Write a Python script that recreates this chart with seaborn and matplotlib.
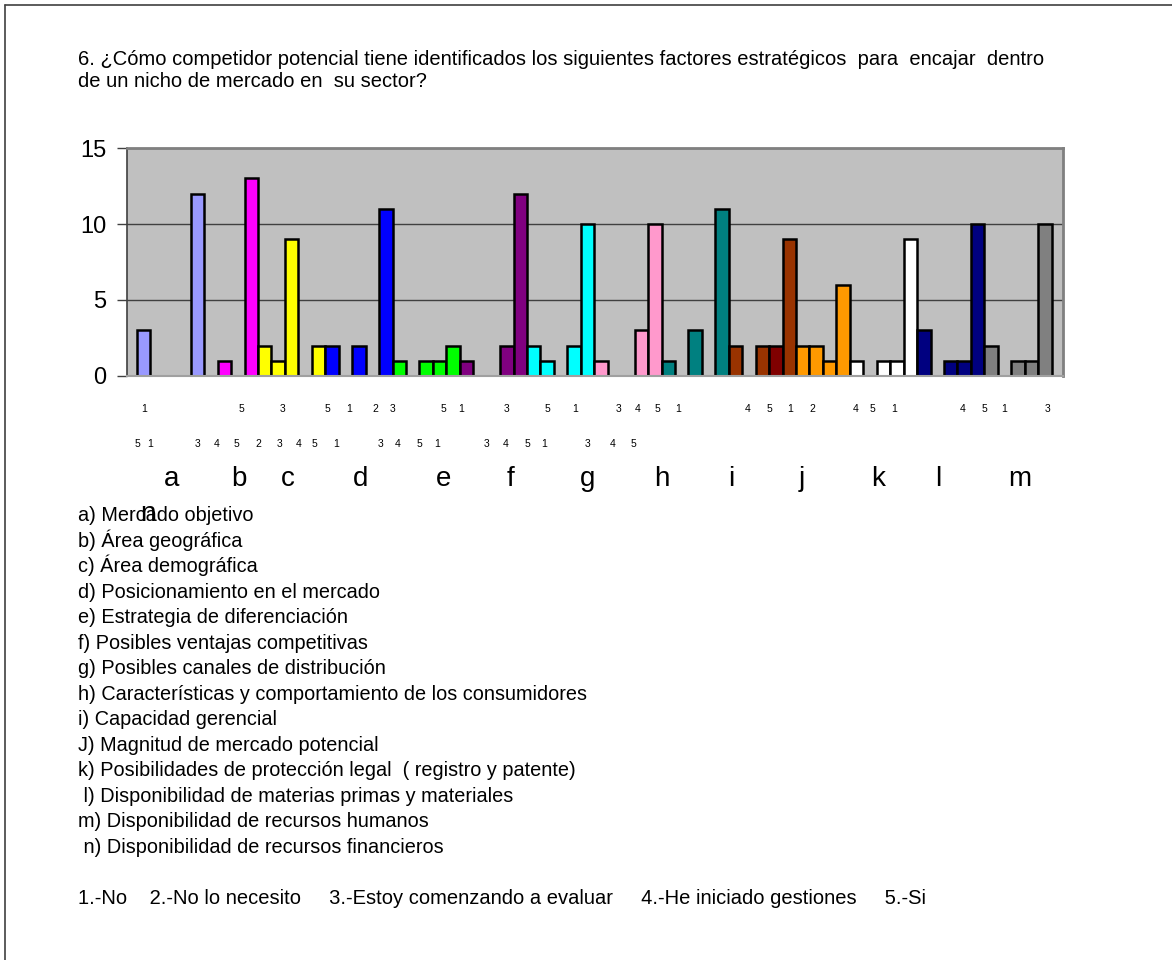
import matplotlib
matplotlib.use("Agg")
import matplotlib.pyplot as plt
from matplotlib.lines import Line2D
import seaborn as sns
import pandas as pd

# one entry per bar slot, left to right (None = empty slot)
values = [3, None, None, None, 12, None, 1, None, 13, 2,
          1, 9, None, 2, 2, None, 2, None, 11, 1,
          None, 1, 1, 2, 1, None, None, 2, 12, 2,
          1, None, 2, 10, 1, None, None, 3, 10, 1,
          None, 3, None, 11, 2, None, 2, 2, 9, 2,
          2, 1, 6, 1, None, 1, 1, 9, 3, None,
          1, 1, 10, 2, None, 1, 1, 10]
fills = ["lav", "", "", "", "lav", "", "mag", "", "mag", "yel",
         "yel", "yel", "", "yel", "blue", "", "blue", "", "blue", "green",
         "", "green", "green", "green", "purple", "", "", "purple", "purple", "cyan",
         "cyan", "", "cyan", "cyan", "pink", "", "", "pink", "pink", "teal",
         "", "teal", "", "teal", "brown", "", "brown", "darkred", "brown", "orange",
         "orange", "orange", "orange", "white", "", "white", "white", "white", "navy", "",
         "navy", "navy", "navy", "gray", "", "gray", "gray", "gray"]
colour_codes = {"lav": "#9999FF", "mag": "#FF00FF", "yel": "#FFFF00", "blue": "#0000FF",
                "green": "#00FF00", "purple": "#800080", "cyan": "#00FFFF", "pink": "#FF99CC",
                "teal": "#008080", "brown": "#993300", "darkred": "#800000", "orange": "#FF9900",
                "white": "#FFFFFF", "navy": "#000080", "gray": "#808080"}

# broken category-axis labels (text, slot position)
row1_labels = ["1", "5", "3", "5", "1", "2", "3", "5", "1", "3", "5", "1", "3", "4",
               "5", "1", "4", "5", "1", "2", "4", "5", "1", "4", "5", "1", "3"]
row1_pos = [0.0, 7.3, 10.3, 13.7, 15.3, 17.2, 18.5, 22.3, 23.6, 27.0, 30.0, 32.1, 35.3, 36.7,
            38.2, 39.7, 44.9, 46.5, 48.1, 49.7, 52.9, 54.2, 55.8, 60.9, 62.5, 64.0, 67.2]
row2_labels = ["5", "1", "3", "4", "5", "2", "3", "4", "5", "1", "3", "4", "5", "1",
               "3", "4", "5", "1", "3", "4", "5"]
row2_pos = [-0.5, 0.5, 4.0, 5.4, 6.9, 8.5, 10.1, 11.5, 12.7, 14.3, 17.6, 18.9, 20.5, 21.8,
            25.5, 26.9, 28.5, 29.8, 33.0, 34.9, 36.4]
letters = ["a", "b", "c", "d", "e", "f", "g", "h", "i", "j", "k", "l", "m"]
letter_pos = [2.1, 7.1, 10.7, 16.1, 22.3, 27.3, 33.0, 38.5, 43.7, 48.9, 54.6, 59.1, 65.1]

title_lines = ["6. ¿Cómo competidor potencial tiene identificados los siguientes factores estratégicos  para  encajar  dentro",
               "de un nicho de mercado en  su sector?"]
factor_lines = ["a) Mercado objetivo", "b) Área geográfica", "c) Área demográfica",
                "d) Posicionamiento en el mercado", "e) Estrategia de diferenciación",
                "f) Posibles ventajas competitivas", "g) Posibles canales de distribución",
                "h) Características y comportamiento de los consumidores", "i) Capacidad gerencial",
                "J) Magnitud de mercado potencial",
                "k) Posibilidades de protección legal  ( registro y patente)",
                " l) Disponibilidad de materias primas y materiales",
                "m) Disponibilidad de recursos humanos", " n) Disponibilidad de recursos financieros"]
answer_line = "1.-No    2.-No lo necesito     3.-Estoy comenzando a evaluar     4.-He iniciado gestiones     5.-Si"

sns.set_theme(style="white")
plt.rcParams["font.family"] = ["Liberation Sans", "DejaVu Sans"]
plt.rcParams["text.color"] = "black"
plt.rcParams["ytick.color"] = "black"

df = pd.DataFrame({"slot": range(len(values)), "value": values, "fill": fills}).dropna()
palette = {s: colour_codes[f] for s, f in zip(df["slot"], df["fill"])}

fig = plt.figure(figsize=(11.72, 9.6), dpi=100)
ax = fig.add_axes([127 / 1172, 584 / 960, 936 / 1172, 228 / 960])

sns.barplot(data=df, x="slot", y="value", hue="slot", palette=palette, saturation=1,
            order=list(range(len(values))), width=1.0, errorbar=None,
            edgecolor="black", linewidth=1.8, legend=False, ax=ax)

ax.set_facecolor("#C0C0C0")
ax.set_xlim(-1.24, 68.35)
ax.set_ylim(0, 15)
ax.set_yticks([0, 5, 10, 15])
ax.set_xticks([])
ax.set_xlabel("")
ax.set_ylabel("")
ax.set_axisbelow(True)
ax.yaxis.grid(True, color="#404040", linewidth=1.0)
ax.tick_params(axis="y", direction="out", length=7, width=1, color="#404040",
               labelsize=17, labelcolor="black", pad=8, left=True)
for side in ["top", "right"]:
    ax.spines[side].set_color("#808080")
    ax.spines[side].set_linewidth(2)
ax.spines["left"].set_color("#404040")
ax.spines["left"].set_linewidth(1.2)
ax.spines["bottom"].set_color("#A0A0A0")
ax.spines["bottom"].set_linewidth(1.5)

tr = ax.get_xaxis_transform()
for t, p in zip(row1_labels, row1_pos):
    ax.text(p, -0.158, t, transform=tr, ha="center", va="baseline", fontsize=7.5)
for t, p in zip(row2_labels, row2_pos):
    ax.text(p, -0.311, t, transform=tr, ha="center", va="baseline", fontsize=7.5)
for t, p in zip(letters, letter_pos):
    ax.text(p, -0.482, t, transform=tr, ha="center", va="baseline", fontsize=20)
ax.text(0.3, -0.636, "n", transform=tr, ha="center", va="baseline", fontsize=20)

# text blocks above and below the chart
fig.text(78 / 1172, 1 - 65 / 960, title_lines[0], fontsize=14.5, va="baseline")
fig.text(78 / 1172, 1 - 87 / 960, title_lines[1], fontsize=14.5, va="baseline")
for i, line in enumerate(factor_lines):
    fig.text(78 / 1172, 1 - (521 + i * 25.54) / 960, line, fontsize=14.3, va="baseline")
fig.text(78 / 1172, 1 - 904 / 960, answer_line, fontsize=14.5, va="baseline")

# page frame (left and top edges)
fig.add_artist(Line2D([5 / 1172, 5 / 1172], [0, 1 - 5 / 960], color="#404040", linewidth=1.2))
fig.add_artist(Line2D([5 / 1172, 1], [1 - 5 / 960, 1 - 5 / 960], color="#404040", linewidth=1.2))

fig.savefig("out.png", dpi=100)
